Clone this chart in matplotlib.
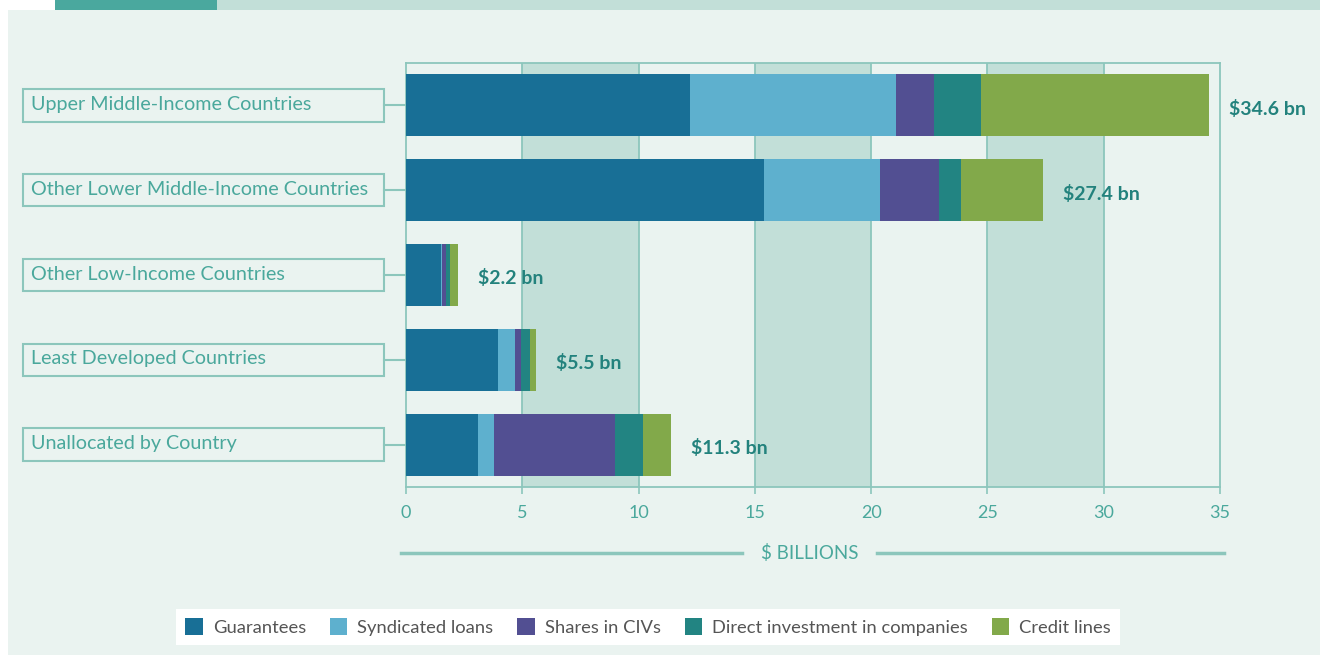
import matplotlib
matplotlib.use('Agg')
import matplotlib.pyplot as plt
from matplotlib.patches import Rectangle
from matplotlib.lines import Line2D
from matplotlib import transforms

plt.rcParams['font.family'] = ['Lato', 'DejaVu Sans']

categories = ["Upper Middle-Income Countries",
              "Other Lower Middle-Income Countries",
              "Other Low-Income Countries",
              "Least Developed Countries",
              "Unallocated by Country"]
guarantees = [12.2, 15.4, 1.5, 3.95, 3.1]
syndicated = [8.85, 5.0, 0.05, 0.73, 0.7]
shares = [1.67, 2.5, 0.15, 0.26, 5.17]
direct = [2.02, 0.95, 0.2, 0.38, 1.21]
credit = [9.8, 3.55, 0.35, 0.26, 1.2]
total_labels = ["$34.6 bn", "$27.4 bn", "$2.2 bn", "$5.5 bn", "$11.3 bn"]
series_names = ["Guarantees", "Syndicated loans", "Shares in CIVs",
                "Direct investment in companies", "Credit lines"]
xticks = [0, 5, 10, 15, 20, 25, 30, 35]
xlabel = "$ BILLIONS"

colors = ["#186F96", "#5EB0CE", "#524F92", "#228482", "#82A94A"]
TEAL = "#4AA89C"
LINE = "#8CC6BC"
BAND = "#C2DFD8"
PANEL = "#EAF3F0"

W, H = 1320, 655
fig = plt.figure(figsize=(W / 100, H / 100), dpi=100)
fig.patch.set_facecolor("white")

def fx(x):
    return x / W

def fy(y):
    return 1 - y / H

# background panel and top strip
fig.add_artist(Rectangle((fx(8), 0), fx(W - 8), 1 - 10 / H, transform=fig.transFigure,
                         facecolor=PANEL, edgecolor="none", zorder=0))
fig.add_artist(Rectangle((fx(55), fy(10)), fx(162), 10 / H, transform=fig.transFigure,
                         facecolor="#4AA89E", edgecolor="none", zorder=0))
fig.add_artist(Rectangle((fx(217), fy(10)), fx(W - 217), 10 / H, transform=fig.transFigure,
                         facecolor=BAND, edgecolor="none", zorder=0))

ax = fig.add_axes([fx(406), fy(487), fx(814), 424 / H])
ax.set_facecolor("none")
ax.set_zorder(2)

for a, b in [(5, 10), (15, 20), (25, 30)]:
    ax.axvspan(a, b, color=BAND, zorder=0, lw=0)
for x in xticks[1:-1]:
    ax.axvline(x, color=LINE, lw=1.3, zorder=0.5)

series = [guarantees, syndicated, shares, direct, credit]
ypos = list(range(len(categories)))
left = [0.0] * len(categories)
handles = []
for vals, col, name in zip(series, colors, series_names):
    bc = ax.barh(ypos, vals, left=left, height=0.73, color=col, label=name, zorder=3, lw=0)
    handles.append(bc)
    left = [l + v for l, v in zip(left, vals)]

for i, (tot, lbl) in enumerate(zip(left, total_labels)):
    ax.annotate(lbl, xy=(tot, i), xytext=(14.5, -2.5), textcoords="offset points",
                va="center", ha="left", fontsize=14, fontweight="bold", color="#23827D")

ax.set_xlim(0, 35)
ax.set_ylim(len(categories) - 0.5, -0.5)
ax.set_yticks([])
ax.set_xticks(xticks)
ax.set_xticklabels([str(t) for t in xticks])
ax.tick_params(axis="x", colors=LINE, labelcolor=TEAL, length=5, width=1.2,
               labelsize=13, pad=8)
for s in ax.spines.values():
    s.set_color(LINE)
    s.set_linewidth(1.3)

# category label boxes
trans = transforms.blended_transform_factory(fig.transFigure, ax.transData)
for i, cat in enumerate(categories):
    fig.add_artist(Rectangle((fx(23), i - 0.19), fx(361), 0.38, transform=trans,
                             fill=False, edgecolor=LINE, lw=1.5, clip_on=False))
    fig.add_artist(Line2D([fx(384), fx(406)], [i, i], transform=trans, color=LINE, lw=1.5))
    fig.text(fx(31), i - 0.01, cat, transform=trans, va="center", ha="left",
             fontsize=14.2, color=TEAL)

# x-axis title with rules
fig.text(fx(809.5), fy(553), xlabel, ha="center", va="center", fontsize=13.5,
         color=TEAL)
fig.add_artist(Line2D([fx(401), fx(742)], [fy(553), fy(553)], color=LINE, lw=2.5))
fig.add_artist(Line2D([fx(877), fx(1224)], [fy(553), fy(553)], color=LINE, lw=2.5))

leg = fig.legend(handles, series_names, loc="center", bbox_to_anchor=(fx(648), fy(627)),
                 ncol=5, frameon=True, fancybox=False, facecolor="white", edgecolor="white",
                 framealpha=1, handlelength=0.95, handleheight=1.0, handletextpad=0.55,
                 columnspacing=1.3, borderpad=0.5, fontsize=13.2, labelcolor="#555555")
leg.get_frame().set_linewidth(0)

fig.savefig("out.png", dpi=100)
